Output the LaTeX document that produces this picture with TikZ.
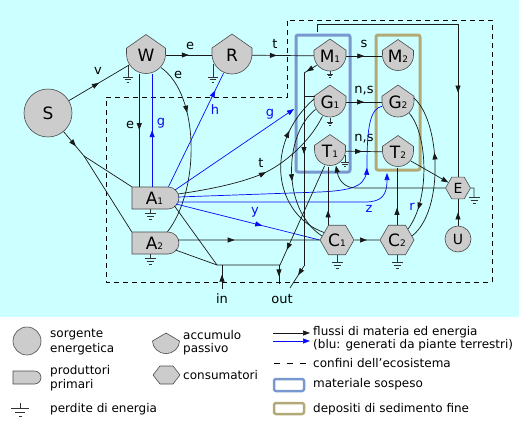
\documentclass[tikz,border=0pt]{standalone}
\usepackage{fontspec}
\setmainfont{DejaVu Sans}
\usetikzlibrary{arrows.meta,shapes.geometric,shapes.misc,decorations.markings,calc}
\definecolor{bgcyan}{RGB}{204,255,255}
\definecolor{nodefill}{RGB}{204,204,204}
\definecolor{bluebox}{RGB}{122,152,208}
\definecolor{olivebox}{RGB}{178,170,118}
\definecolor{flowblue}{RGB}{10,10,250}
\newcommand\subn[1]{{\fontsize{9}{9}\selectfont #1}}
\newcommand\bigf{\fontsize{17}{17}\selectfont}
\newcommand\tankshp[5]{%
  \path[shp] (#2-#4,#3) -- (#2-#4,#3-0.3*#4) -- (#2,#3-#4) -- (#2+#4,#3-0.3*#4) -- (#2+#4,#3) arc[start angle=0,end angle=180,radius=#4] -- cycle;
  \node[circle,minimum size=2*#4,inner sep=0pt,font=\bigf] (#1) at (#2,#3+1) {#5};}
\begin{document}
\begin{tikzpicture}[x=1pt,y=-1pt,line join=round,
 flow/.style={draw=black!90,line width=0.7pt},
 bflow/.style={draw=flowblue,line width=0.7pt},
 tip/.style={-{Triangle[length=7pt,width=5pt]}},
 marr/.style={postaction={decorate},decoration={markings,mark=at position #1 with {\arrow{Triangle[length=7pt,width=5pt]}}}},
 marr/.default=0.5,
 shp/.style={fill=nodefill,draw=black!70,line width=0.6pt},
 hexa/.style={shp,regular polygon,regular polygon sides=6,inner sep=0pt},
 prod/.style={shp,rounded rectangle,rounded rectangle west arc=none,inner sep=0pt,minimum width=47,minimum height=22,font=\bigf},
 lbl/.style={font=\fontsize{13}{13}\selectfont,inner sep=0pt},
 blbl/.style={lbl,text=flowblue},
 leg/.style={font=\fontsize{12}{12}\selectfont,anchor=west,inner sep=0pt},
 gndline/.style={line width=0.6pt,draw=black!80},
 pics/gnd/.style={code={\draw[gndline] (0,-#1) -- (0,0) (-5.5,0) -- (5.5,0) (-3.5,3) -- (3.5,3) (-1.5,6) -- (1.5,6);}},
]
\useasboundingbox (0,0) rectangle (519,426);
\fill[bgcyan] (0,0) rectangle (519,317);
\fill[white] (0,317) rectangle (519,426);

% ecosystem boundary
\draw[line width=0.7pt,dash pattern=on 5pt off 4pt] (106,97) -- (287,97) -- (287,20) -- (492,20) -- (492,282) -- (106,282) -- cycle;

% compartments
\node[draw=bluebox,line width=3pt,rounded corners=2pt,minimum width=54,minimum height=137,inner sep=0pt] (bbox) at (323,103.5) {};
\node[draw=olivebox,line width=3pt,rounded corners=2pt,minimum width=44,minimum height=135,inner sep=0pt] (obox) at (398,102.5) {};

% nodes
\node[shp,circle,minimum size=48,inner sep=0pt,font=\bigf] (S) at (48,113) {S};
\tankshp{W}{146}{54}{19.5}{W}
\tankshp{R}{232}{54}{20}{R}
\tankshp{M1}{330}{55}{16}{M\subn1}
\tankshp{M2}{398}{55}{15.5}{M\subn2}
\tankshp{G1}{330}{101}{16}{G\subn1}
\tankshp{G2}{398}{101}{16}{G\subn2}
\tankshp{T1}{330}{150}{15.5}{T\subn1}
\tankshp{T2}{398}{151}{15.5}{T\subn2}
\node[prod] (A1) at (154.5,198) {A\subn1};
\node[prod] (A2) at (154.5,243) {A\subn2};
\node[hexa,minimum size=34,font=\bigf] (C1) at (337,240) {C\subn1};
\node[hexa,minimum size=34,font=\bigf] (C2) at (397,240) {C\subn2};
\node[hexa,minimum size=25,font=\fontsize{14}{14}\selectfont] (E) at (458,188) {E};
\node[shp,circle,minimum size=26,inner sep=0pt,font=\fontsize{14}{14}\selectfont] (U) at (458,239) {U};

% energy losses
\pic[scale=0.9] at (128,77) {gnd=13};
\pic[scale=0.9] at (213,77) {gnd=15};
\pic[scale=0.55] at (330,74) {gnd=5};
\pic[scale=0.55] at (330,122) {gnd=7};
\pic[scale=0.75] at (345,162) {gnd=9};
\pic at (337,262) {gnd=7.5};
\pic at (397,262) {gnd=7.5};
\pic at (150,213) {gnd=4};
\pic at (150,258) {gnd=4};
\draw[gndline] (E.east) -- (474,188) -- (474,197);
\pic at (474,197) {gnd=0};

% source flows
\draw[flow,marr] (S) -- (W);
\node[lbl] at (98,71) {v};
\coordinate (j1) at (84,156);
\draw[flow,marr=0.6] (S) -- (j1);
\draw[flow] (j1) -- (A1.north west);
\draw[flow] (j1) -- (A2.north west);

% top chain
\draw[flow,marr] (W) -- (R);
\node[lbl] at (190,46) {e};
\draw[flow,marr=0.4] (R) -- (M1);
\node[lbl] at (275,44) {t};
\draw[flow,marr] (M1) -- (M2);
\node[lbl] at (364,44) {s};
\draw[flow,marr] (G1) -- (G2);
\node[lbl] at (364,91) {n,s};
\draw[flow,marr=0.45] (T1) -- (T2);
\node[lbl] at (364,139) {n,s};

% W <-> A1, W -> A2
\draw[flow,marr] (W.-110) -- (W.-110 |- A1.north);
\node[lbl] at (130,125) {e};
\draw[bflow,marr] (W.-72 |- A1.north) -- (W.-72);
\node[blbl] at (161,123) {g};
\draw[flow,marr=0.3] (W.-40) .. controls (200,95) and (200,190) .. ($(A2.north)+(13,0)$);
\node[lbl] at (178,75) {e};

% blue flows from A1
\draw[bflow,marr=0.85] ($(A1.north)+(14,0)$) -- (R.-115);
\node[blbl] at (215,110) {h};
\coordinate (gE) at (294,109);
\draw[bflow,tip] ($(A1)+(20.5,-8)$) -- (gE);
\node[blbl] at (270,114) {g};
\coordinate (bq) at (320,192);
\draw[bflow,marr=0.75] ($(A1)+(23.5,-1)$) -- (bq) .. controls (358,190) and (367,185) .. (367,165) .. controls (367,128) and (370,108) .. (G2.195);
\coordinate (zE) at (387,173);
\draw[bflow,tip] ($(A1)+(23,4)$) -- (365,202) .. controls (382,202) and (387,195) .. (zE);
\node[blbl] at (369,209) {z};
\draw[bflow,marr=0.6] ($(A1)+(21.5,6)$) -- (C1.west);
\node[blbl] at (255,212) {y};

% A1 -> G1 (t)
\draw[flow,marr=0.53] ($(A1)+(23.5,-4)$) .. controls (220,188) and (245,181) .. (262,174) .. controls (283,165) and (310,142) .. (G1.-118);
\node[lbl] at (261,163) {t};

% A2 -> C1
\draw[flow,marr=0.4] ($(A2)+(23.5,-3)$) -- (C1.west);

% in / out
\coordinate (jin) at (217,265);
\coordinate (jout) at (280,265);
\draw[flow] ($(A1)+(20,8)$) -- (jin);
\draw[flow] ($(A2)+(21,7)$) -- (jin) -- (jout);
\coordinate (inb) at (222,289);
\draw[flow,marr=0.6] (inb) -- (inb |- jin);
\node[lbl] at (222,299) {in};
\coordinate (outb) at (279,284);
\draw[flow,marr=0.6] (outb |- jout) -- (outb);
\node[lbl] at (282,299) {out};
\draw[flow,marr=0.85] (T1.-110) -- (jout);

% M1 -> out
\coordinate (mo1) at (304,73);
\coordinate (mo2) at (304,266);
\coordinate (mo3) at (290,288);
\draw[flow,marr=0.8] (M1.-145) -- (mo1);
\draw[flow,marr=0.42] (mo1) -- (mo2);
\draw[flow,marr=0.42] (mo2) -- (mo3);
\draw[flow] (G1.158) -- (G1.158 -| mo1);

% consumers
\draw[flow,marr=0.25] (T1.-97 |- C1.north) -- (T1.-97);
\draw[flow,marr=0.3] (C2.north) -- (C2.north |- T2.south);
\draw[flow,marr] (C1) -- (C2);
\draw[flow,marr=0.75] (C1.150) .. controls (275,215) and (262,145) .. (G1.169);
\draw[flow,marr=0.55] (G1.207) .. controls (283,135) and (282,210) .. (C1.165);
\draw[flow,marr=0.82] (G2.-45) .. controls (428,135) and (430,200) .. (C2.45);
\draw[flow,marr=0.6] (C2.15) .. controls (445,210) and (440,120) .. (G2.15);
\node[blbl] at (412,207) {r};

% E
\draw[flow,tip] (T2.-35) -- (E);
\draw[flow,tip] (E.west) -- (356,188) .. controls (345,188) and (339,181) .. (T1.-68);
\draw[flow,marr] (U) -- (E);
\draw[flow,marr=0.72] ($(bbox.north)+(-6,-1.5)$) -- ++(0,-7.5) -| (E.north);

% legend left
\draw[shp] (27,341) circle[radius=14];
\node[leg] at (50,335) {sorgente};
\node[leg] at (50,349) {energetica};
\node[shp,rounded rectangle,rounded rectangle west arc=none,inner sep=0pt,minimum width=28,minimum height=13] (lgA) at (27,377.5) {};
\node[leg] at (50,371) {produttori};
\node[leg] at (50,385) {primari};
\draw[gndline] (20,403) -- (20,408) (11,408) -- (29,408) (15,412) -- (25,412) (18.5,416) -- (21.5,416);
\node[leg] at (50,409) {perdite di energia};
\draw[shp] (152.5,341) -- (166,333) -- (179.5,341) arc[start angle=0,end angle=180,x radius=13.5,y radius=12.5] -- cycle;
\node[leg] at (183,335) {accumulo};
\node[leg] at (183,349) {passivo};
\draw[shp] (153,375) -- (160,366) -- (173,366) -- (180,375) -- (173,384) -- (160,384) -- cycle;
\node[leg] at (183,375) {consumatori};

% legend right
\draw[flow,tip] (273,333) -- (310,333);
\draw[bflow,tip] (273,341) -- (310,341);
\node[leg] at (313,332) {flussi di materia ed energia};
\node[leg] at (313,345) {(blu: generati da piante terrestri)};
\draw[line width=0.7pt,dash pattern=on 6pt off 7pt] (274,363) -- (310,363);
\node[leg] at (313,363) {confini dell’ecosistema};
\draw[draw=bluebox,line width=2.5pt,rounded corners=2pt] (274,379) rectangle (304,391);
\node[leg] at (313,384) {materiale sospeso};
\draw[draw=olivebox,line width=2.5pt,rounded corners=2pt] (274,403) rectangle (304,414);
\node[leg] at (313,409) {depositi di sedimento fine};
\end{tikzpicture}
\end{document}
